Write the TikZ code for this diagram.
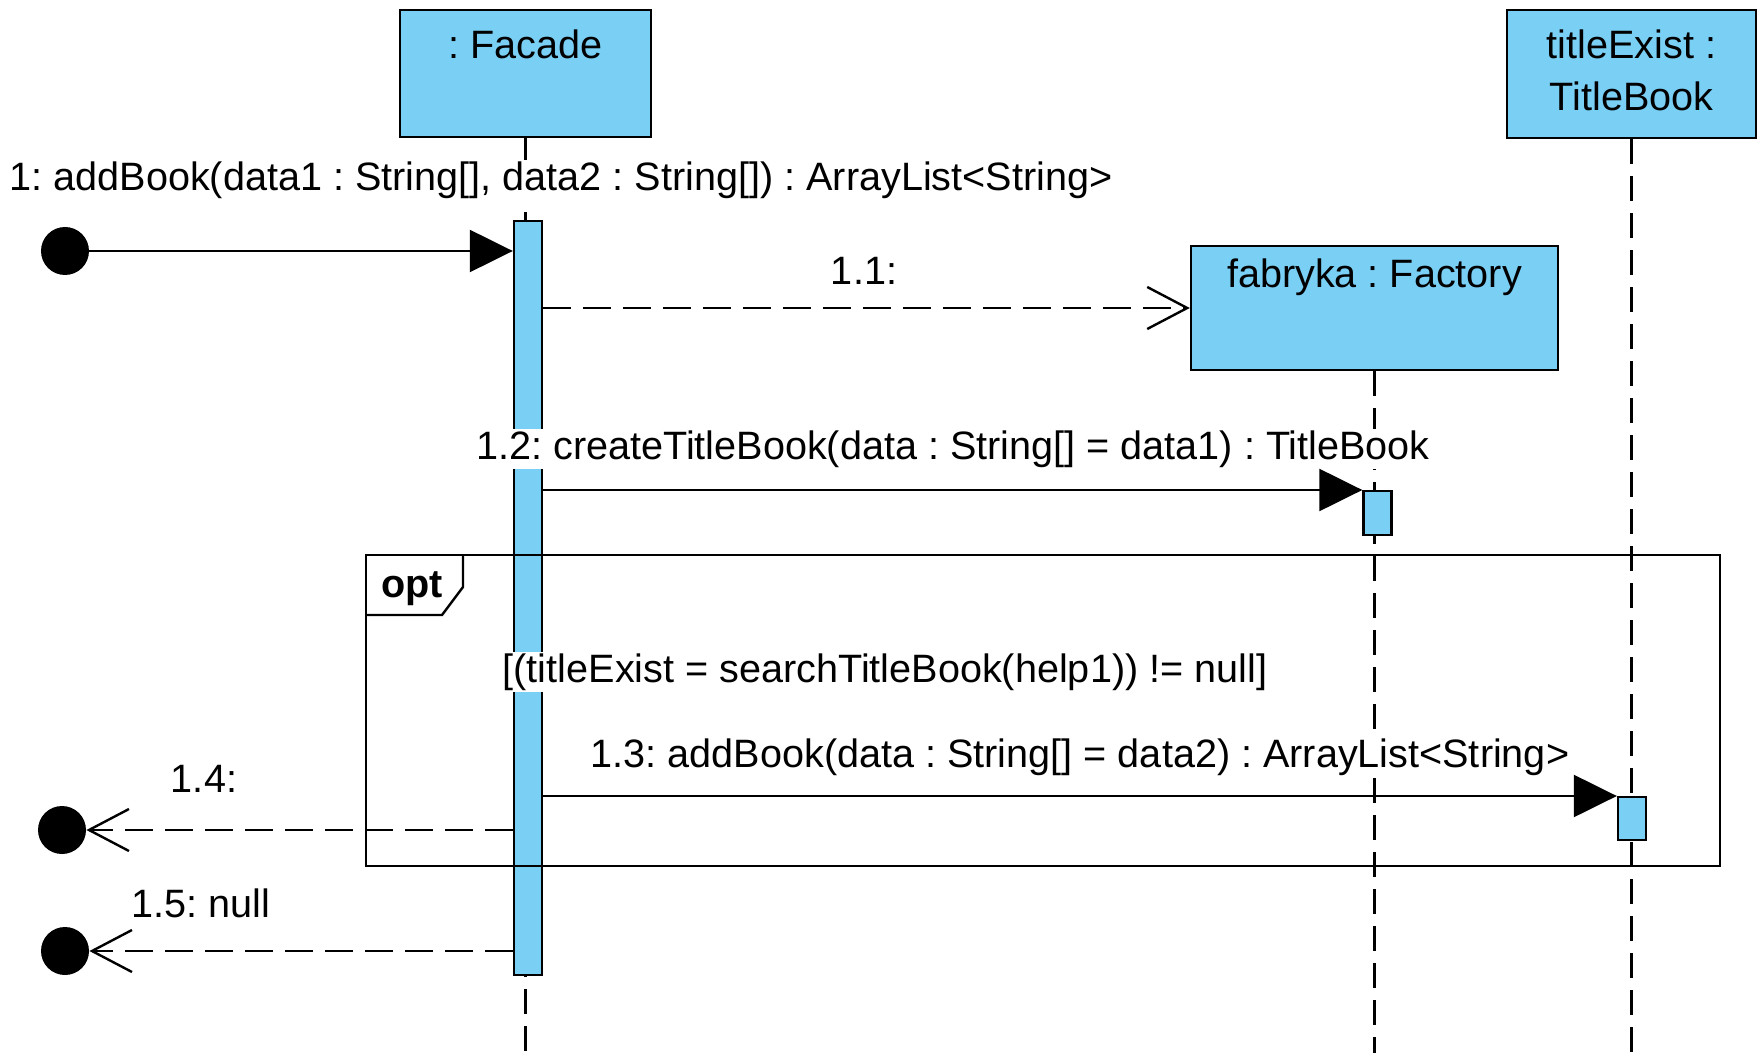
\documentclass[tikz,border=0pt]{standalone}
\usepackage{fontspec}
\setmainfont{Liberation Sans}
\usetikzlibrary{arrows.meta}
\definecolor{vpblue}{RGB}{122,207,244}
\frenchspacing
\begin{document}
\begin{tikzpicture}[x=0.5pt, y=-0.5pt,
    every node/.style={font=\fontsize{19.8}{25}\selectfont},
    obj/.style={draw, fill=vpblue, line width=1.2pt, inner sep=0pt},
    act/.style={draw, fill=vpblue, line width=1.2pt, inner sep=0pt, minimum width=14pt},
    life/.style={line width=1.2pt, dash pattern=on 12.5pt off 6pt},
    lbl/.style={fill=white, inner sep=1pt},
    dot/.style={circle, fill=black, inner sep=0pt, minimum size=24pt},
    call/.style={line width=1.2pt, -{Triangle[length=21.5pt, width=21pt]}},
    reply/.style={line width=1.2pt, dash pattern=on 14pt off 6pt, -{Straight Barb[length=20pt, width=21pt, line width=1.2pt]}},
    frm/.style={draw, line width=1.2pt, inner sep=0pt}]
\useasboundingbox (0,0) rectangle (1759,1053);

% objects
\node [obj, minimum width=125.5pt, minimum height=63.5pt] (facade) at (525.5,73.5) {};
\node (facadename) at (525.5,44) {: Facade};
\node [obj, minimum width=124.5pt, minimum height=64pt] (title) at (1631.5,74) {};
\node [align=center, font=\fontsize{19.8}{26}\selectfont] (titlename) at (1631.5,70) {titleExist :\\TitleBook};
\node [obj, minimum width=183.5pt, minimum height=62pt] (fab) at (1374.5,308) {};
\node (fabname) at (1374.5,277) {fabryka : Factory};

% lifelines
\coordinate (bottom) at (0,1053);
\draw [life] (facade.south) -- (facade.south |- bottom);
\draw [life] (fab.south) -- (fab.south |- bottom);
\draw [life] (title.south) -- (title.south |- bottom);

% activations
\node [act, minimum height=377pt, anchor=north] (facadeact) at (528,220) {};
\node [act, minimum height=22pt, anchor=north] (fabact) at (1377.5,490) {};
\node [act, minimum height=21.5pt, anchor=north] (titleact) at (1632,796) {};

% labels
\node [lbl] (l1) at (561,180) {1: addBook(data1 : String[], data2 : String[]) : ArrayList<String>};
\node [lbl] (l11) at (864,271) {1.1:};
\node [lbl] (l12) at (953,449) {1.2: createTitleBook(data : String[] = data1) : TitleBook};
\node [lbl] (guard) at (885,672) {[(titleExist = searchTitleBook(help1)) != null]};
\node [lbl] (l13) at (1080,757) {1.3: addBook(data : String[] = data2) : ArrayList<String>};
\node (l14) at (204,779) {1.4:};
\node (l15) at (201,903) {1.5: null};

% opt fragment
\node [frm, minimum width=677pt, minimum height=155.5pt, anchor=north west] (optframe) at (365,554) {};
\draw [line width=1.2pt] (optframe.north west) ++(98,0) -- ++(0,33) -- ++(-21,28) -- ++(-77,0);
\node [font=\fontsize{19.8}{25}\selectfont\bfseries] (optname) at (412,589) {opt};

% messages
\node [dot] (start) at (65,251) {};
\node [dot] (end14) at (62,830) {};
\node [dot] (end15) at (65,951) {};
\draw [call] (start) -- (start -| facadeact.west);
\draw [reply] (facadeact.east |- fab.west) -- (fab.west);
\draw [call] (facadeact.east |- fabact.north) -- (fabact.north west);
\draw [call] (facadeact.east |- titleact.north) -- (titleact.north west);
\draw [reply] (facadeact.west |- end14) -- (end14);
\draw [reply] (facadeact.west |- end15) -- (end15);

\end{tikzpicture}
\end{document}
